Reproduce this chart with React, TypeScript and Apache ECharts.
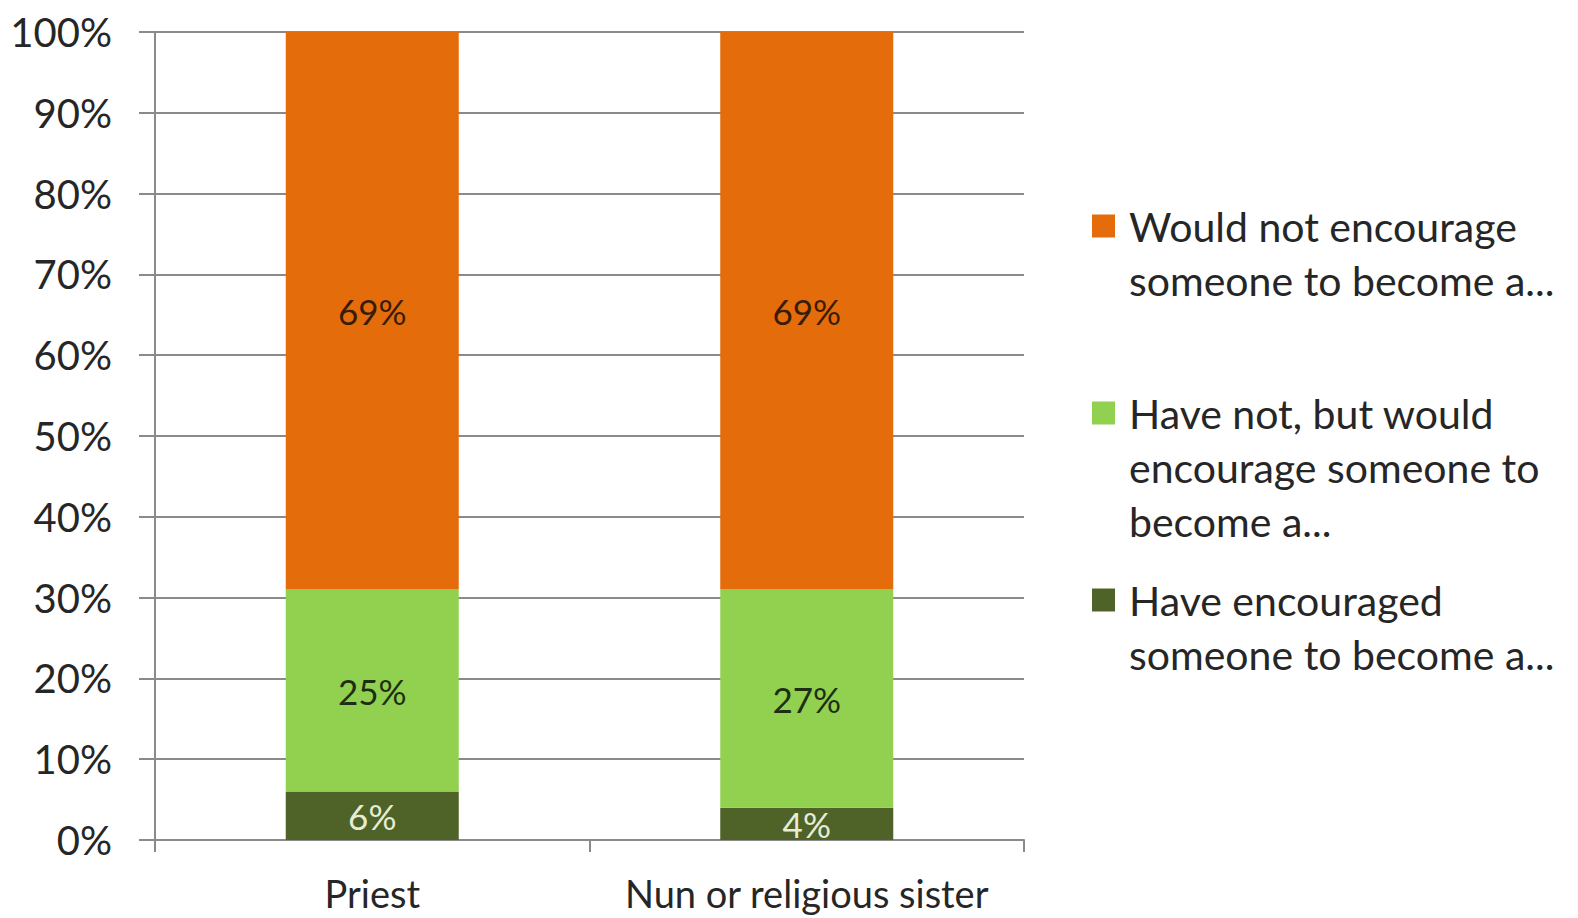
import React, { useEffect, useRef } from "react";
import * as echarts from "echarts";

const categories = ["Priest", "Nun or religious sister"];
const haveEncouraged = [6, 4];
const haveNotButWould = [25, 27];
const wouldNot = [69, 69];
const yTicks = [0, 10, 20, 30, 40, 50, 60, 70, 80, 90, 100];

const seriesNames = [
  "Have encouraged someone to become a...",
  "Have not, but would encourage someone to become a...",
  "Would not encourage someone to become a...",
];
const legendLines: Record<string, string[]> = {
  "Would not encourage someone to become a...": ["Would not encourage", "someone to become a...", " "],
  "Have not, but would encourage someone to become a...": ["Have not, but would", "encourage someone to", "become a..."],
  "Have encouraged someone to become a...": ["Have encouraged", "someone to become a..."],
};
const colors = ["#4F6228", "#92D050", "#E46C0A"];
const boxKey: Record<string, string> = {
  "Would not encourage someone to become a...": "o",
  "Have not, but would encourage someone to become a...": "lg",
  "Have encouraged someone to become a...": "dg",
};

const FONT = "Lato";

export default function App() {
  const ref = useRef<HTMLDivElement>(null);
  useEffect(() => {
    if (!ref.current) return;
    const chart = echarts.init(ref.current, undefined, { renderer: "svg" });
    const values = [haveEncouraged, haveNotButWould, wouldNot];
    const labelColors = ["#E6EDD6", "#1E2E12", "#3A1C06"];
    const boxStyle = (c: string) => ({
      backgroundColor: c,
      width: 23,
      height: 23,
      verticalAlign: "middle" as const,
      lineHeight: 54,
    });
    const textTok = {
      fontFamily: FONT,
      fontSize: 41,
      color: "#262626",
      lineHeight: 54,
      verticalAlign: "middle" as const,
    };
    chart.setOption({
      animation: false,
      backgroundColor: "#ffffff",
      grid: { left: 155, right: 554, top: 32, bottom: 78, containLabel: false },
      xAxis: {
        type: "category",
        data: categories,
        boundaryGap: true,
        axisLine: { show: true, lineStyle: { color: "#8a8a8a", width: 2 } },
        axisTick: { show: true, length: 12, alignWithLabel: false, lineStyle: { color: "#8a8a8a", width: 2 } },
        axisLabel: { fontFamily: FONT, fontSize: 38, color: "#262626", margin: 34, interval: 0, hideOverlap: false },
      },
      yAxis: {
        type: "value",
        min: 0,
        max: 100,
        interval: 10,
        axisLine: { show: true, lineStyle: { color: "#8a8a8a", width: 2 } },
        axisTick: { show: true, length: 16, lineStyle: { color: "#8a8a8a", width: 2 } },
        splitLine: { show: true, lineStyle: { color: "#8a8a8a", width: 2 } },
        axisLabel: {
          fontFamily: FONT,
          fontSize: 40,
          color: "#262626",
          margin: 43,
          formatter: (v: number) => (yTicks.includes(v) ? v + "%" : ""),
        },
      },
      legend: {
        orient: "vertical",
        left: 1082,
        top: 194,
        itemWidth: 0,
        itemHeight: 0,
        itemGap: 25,
        itemStyle: { opacity: 0 },
        data: [seriesNames[2], seriesNames[1], seriesNames[0]],
        formatter: (name: string) => {
          const lines = legendLines[name] || [name];
          const k = boxKey[name];
          return lines
            .map((l, i) => (i === 0 ? `{${k}| }{sp| }{t|${l}}` : `{blank| }{sp| }{t|${l}}`))
            .join("\n");
        },
        textStyle: {
          fontFamily: FONT,
          fontSize: 41,
          color: "#262626",
          lineHeight: 54,
          rich: {
            o: boxStyle(colors[2]),
            lg: boxStyle(colors[1]),
            dg: boxStyle(colors[0]),
            blank: { width: 23, height: 23, verticalAlign: "middle", lineHeight: 54 },
            sp: { width: 14, lineHeight: 54, verticalAlign: "middle" },
            t: textTok,
          },
        },
      },
      series: seriesNames.map((name, i) => ({
        name,
        type: "bar",
        stack: "total",
        barWidth: 173,
        data: values[i],
        itemStyle: { color: colors[i] },
        label: {
          show: true,
          position: "inside",
          formatter: (p: any) => p.value + "%",
          fontFamily: FONT,
          fontSize: 35,
          color: labelColors[i],
        },
      })),
    });
    return () => chart.dispose();
  }, []);
  return (
    <div
      ref={ref}
      style={{ position: "fixed", left: 0, top: 0, width: 1578, height: 918, background: "#fff" }}
    />
  );
}
